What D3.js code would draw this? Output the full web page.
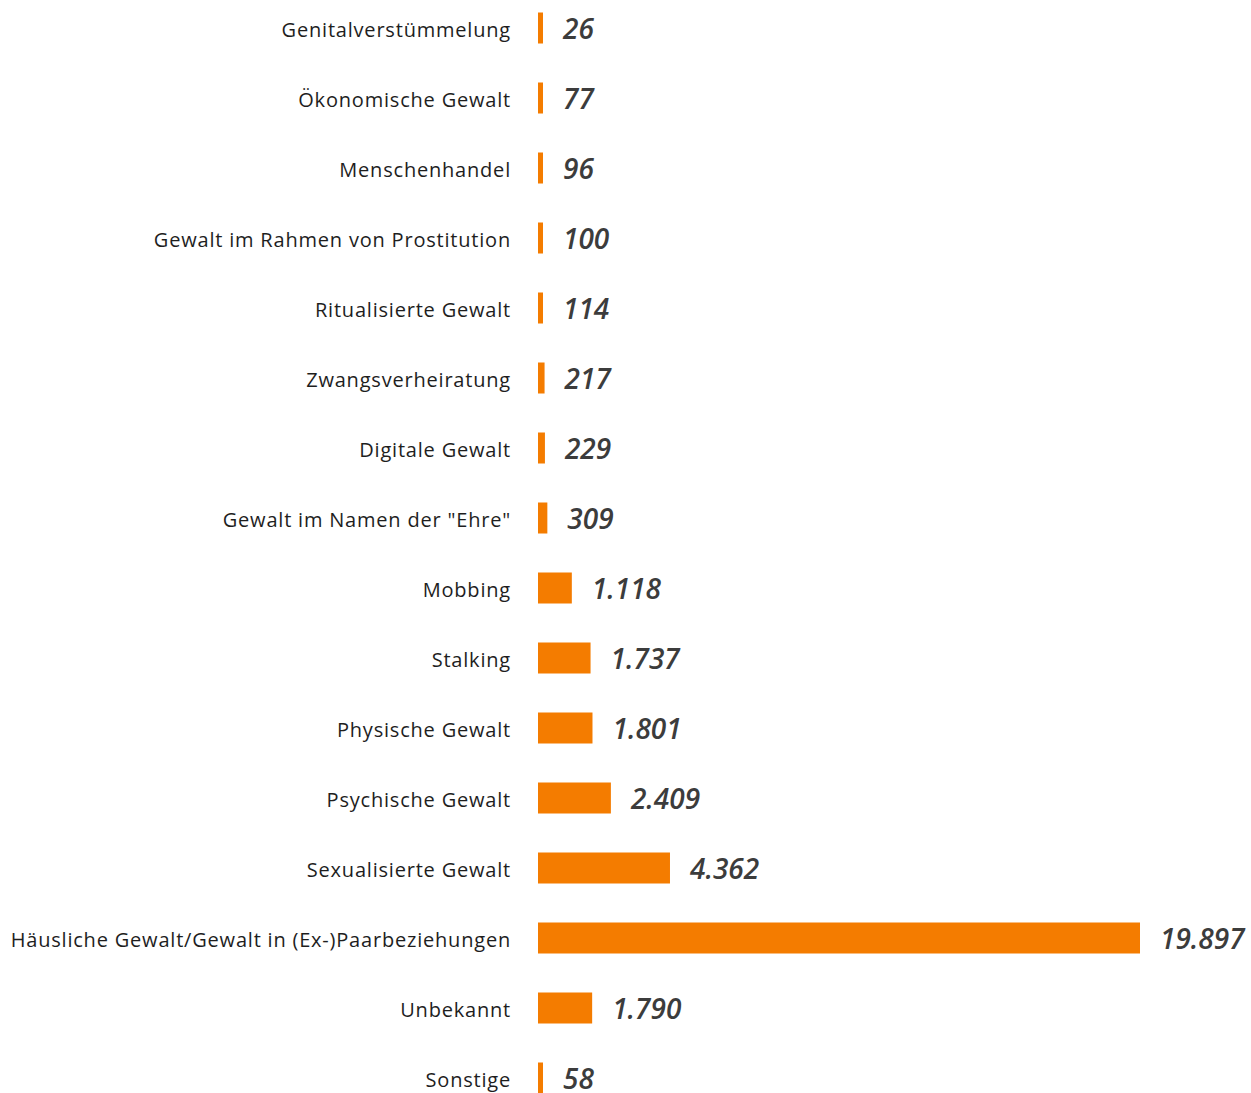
<!DOCTYPE html>
<html>
<head>
<meta charset="utf-8">
<script src="https://cdn.jsdelivr.net/npm/d3@7"></script>
<style>
  body { margin: 0; background: #fff; }
  svg { display: block; }
</style>
</head>
<body>
<svg></svg>
<script>
// ===== Daten ===== //
const kategorien = [
  "Genitalverstümmelung",
  "Ökonomische Gewalt",
  "Menschenhandel",
  "Gewalt im Rahmen von Prostitution",
  "Ritualisierte Gewalt",
  "Zwangsverheiratung",
  "Digitale Gewalt",
  "Gewalt im Namen der \"Ehre\"",
  "Mobbing",
  "Stalking",
  "Physische Gewalt",
  "Psychische Gewalt",
  "Sexualisierte Gewalt",
  "Häusliche Gewalt/Gewalt in (Ex-)Paarbeziehungen",
  "Unbekannt",
  "Sonstige"
];
const werte = [26, 77, 96, 100, 114, 217, 229, 309, 1118, 1737, 1801, 2409, 4362, 19897, 1790, 58];

// ===== Konstanten ===== //
const width = 1251;
const height = 1093;
const x0 = 538;          // Beginn der Balken
const rowStep = 70;
const barH = 31;

const svg = d3.select("svg")
  .attr("width", width)
  .attr("height", height);

const x = d3.scaleLinear()
  .domain([0, 19897])
  .range([x0, 1140]);

const y = d3.scaleBand()
  .domain(kategorien)
  .range([-7, -7 + rowStep * kategorien.length])
  .paddingInner(0);

const fmt = d3.formatLocale({ decimal: ",", thousands: ".", grouping: [3] }).format(",d");

const rows = svg.selectAll("g.row")
  .data(kategorien.map((k, i) => ({ k, v: werte[i] })))
  .enter()
  .append("g")
  .attr("class", "row")
  .attr("transform", d => `translate(0,${y(d.k) + y.bandwidth() / 2})`);

// Balken (Mindestbreite, damit kleine Werte sichtbar bleiben)
rows.append("rect")
  .attr("x", x0)
  .attr("y", -barH / 2)
  .attr("height", barH)
  .attr("width", d => Math.max(x(d.v) - x0, 5))
  .attr("fill", "#f47c00");

// Kategorien links
rows.append("text")
  .attr("x", 511)
  .attr("y", 2)
  .attr("dy", "0.35em")
  .attr("text-anchor", "end")
  .style("font-family", "'Open Sans', sans-serif")
  .style("font-size", "20px")
  .style("letter-spacing", "0.8px")
  .style("fill", "#1e1e1e")
  .text(d => d.k);

// Werte rechts
rows.append("text")
  .attr("x", d => x0 + Math.max(x(d.v) - x0, 5) + 20)
  .attr("y", 1)
  .attr("dy", "0.35em")
  .style("font-family", "'Open Sans', sans-serif")
  .style("font-size", "28px")
  .style("font-style", "italic")
  .style("font-weight", "600")
  .style("fill", "#3c3c3c")
  .text(d => fmt(d.v));
</script>
</body>
</html>
